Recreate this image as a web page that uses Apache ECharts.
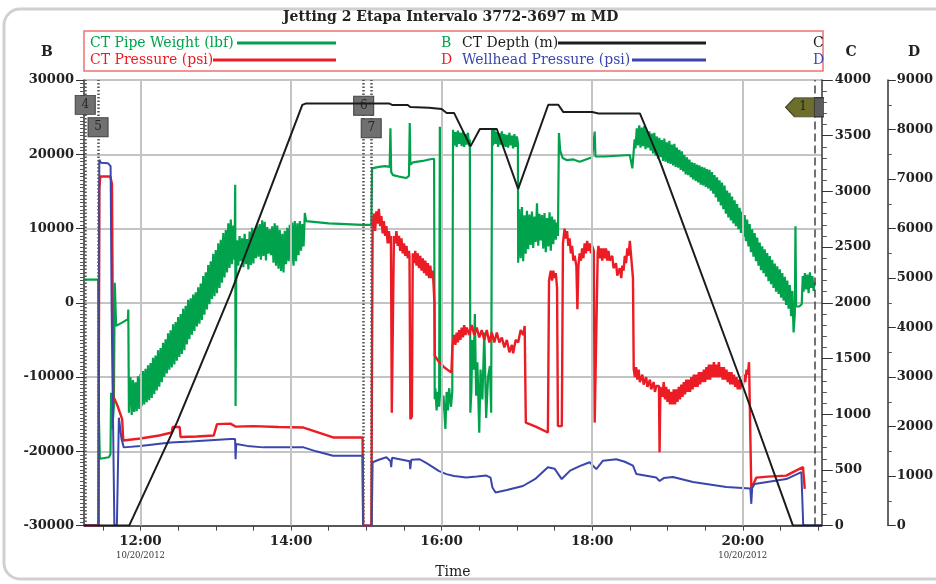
<!DOCTYPE html>
<html><head><meta charset="utf-8">
<script src="https://cdn.jsdelivr.net/npm/echarts@6/dist/echarts.min.js"></script>
<style>html,body{margin:0;padding:0;background:#fff}#c{width:936px;height:584px}</style>
</head><body><div id="c"></div>
<script>
// ---------------- DATA ----------------
const titleText = 'Jetting 2 Etapa Intervalo 3772-3697 m MD';
const seriesNames = ['CT Pipe Weight (lbf)', 'CT Pressure (psi)', 'CT Depth (m)', 'Wellhead Pressure (psi)'];
const seriesAxisLetters = ['B', 'D', 'C', 'D'];
const axisNames = ['B', 'C', 'D'];
const xAxisName = 'Time';
const dateText = '10/20/2012';
// time in minutes after midnight
const timeTicks = [690, 720, 750, 780, 810, 840, 870, 900, 930, 960, 990, 1020, 1050, 1080, 1110, 1140, 1170, 1200, 1230, 1260];
const timeLabels = [720, 840, 960, 1080, 1200];
const dateLabelTimes = [720, 1200];
const markerTimes = [676, 686.2, 897.9, 903.9];
const markerNames = ['4', '5', '6', '7'];
const markerLevels = [26650, 23630, 26520, 23490];
const flagTime = 1257.2;
const flagName = '1';
const flagLevel = 26320;

// CT Pipe Weight (lbf) - axis B
const pipeWeight = [
[675,3130],[686.3,3130],[686.9,-15700],[687.6,-21000],[694.8,-20800],[696.1,-20400],[696.6,-12100],[697.5,-17000],[698.8,-14000],[699.5,2700],[700,2700],[700.6,-3100],[705,-2700],[710,-2200],[710.3,-900],[710.8,-14800],[711.4,-10500],
[712,-10000],[713,-15100],[714,-10400],[715,-14700],[716,-10700],[717,-14600],[718,-9900],[719,-14300],[720,-9600],[721,-13900],[722,-9200],[723,-13700],[724,-8900],[725,-13400],[726,-8400],[727,-13100],[728,-8100],[729,-12800],[730,-7400],[731,-12300],[732,-7100],[733,-11800],[734,-6400],[735,-11300],[736,-6100],[737,-10700],[738,-5400],[739,-10000],[740,-4900],[741,-9500],[742,-4100],[743,-9000],[744,-3700],[745,-8700],[746,-2900],[747,-8300],[748,-2600],[749,-7800],[750,-1900],[751,-7300],[752,-1500],[753,-6900],[754,-800],[755,-6400],[756,-400],[757,-5600],[758,400],[759,-4900],[760,600],[761,-4300],[762,1100],[763,-3800],[764,1400],[765,-3200],[766,2100],[767,-2800],[768,2600],[769,-2300],[770,3600],[771,-1600],[772,4100],[773,-900],[774,5100],[775,-200],[776,5600],[777,500],[778,6600],[779,900],[780,7100],[781,1300],[782,8000],[783,2000],[784,8500],[785,2700],[786,9400],[787,3400],[788,9800],[789,4100],[790,10700],[791,4700],[792,11200],
[793,5200],[794,10400],[795,5800],[795.5,15900],[795.8,-13900],[796.4,6100],
[797,8400],[798,5000],[799,9000],[800,5600],[801,8700],[802,4800],[803,9300],[804,5200],[805,8600],[806,4500],[807,9600],[808,5100],[809,10100],[810,5300],[811,9800],[812,6000],[813,10400],[814,6200],[815,10600],[816,5800],[817,11100],[818,6300],[819,10900],[820,5700],[821,10200],[822,6600],[823,9900],[824,6400],[825,10300],[826,5400],[827,10700],[828,5000],[829,10400],[830,4600],[831,9800],[832,4300],[833,9300],[834,4100],[835,9700],[836,5200],[837,10100],[838,5600],[839,10500],[840,5300],[841,10800],[842,5000],[843,11000],[844,5600],[845,10700],[846,6400],[847,11000],[848,7000],[849,10600],[850,7600],
[851,12100],[852,11000],[870,10700],[897,10500],[904,10500],[904.6,18100],[910,18300],[915,18400],[918.6,18300],[919.2,23500],[919.8,17600],[921.3,17200],[926,17000],[931.9,16800],[934,17100],[934.6,24200],[935.1,18600],[937,18900],[945,19100],[950,19300],[954,19400],
[954.5,-13000],[955,-11500],[956,-14500],[957,-12000],[958,-14000],[958.6,23700],[959.3,-11200],[960.5,-14500],[961.5,-12500],[963,-17000],[964,-12000],[965,-14500],[966,-11500],[967.5,-14000],[968.5,-12000],
[969.1,23300],[970,21200],[971,23000],[972,21000],[973,23200],[974,21400],[975,22900],[976,21100],[977,23100],[978,21000],[979,22700],[980,21300],[981,22900],[982,21100],[982.5,22000],
[982.9,-14800],[983.7,-12000],[984.5,-5000],[985.5,-9000],[986.5,-1500],[987.5,-12500],[988.5,-8000],[990,-17500],[991,-9000],[992.5,-13000],[994,-4000],[995.5,-15500],[997,-10000],[998.5,-8500],[999.5,-14800],
[1000.2,23300],[1001,21200],[1002,23500],[1003,21400],[1004,23000],[1005,21000],[1006,22800],[1007,21300],[1008,23100],[1009,21100],[1010,22700],[1011,21000],[1012,22600],[1013,20900],[1014,22900],[1015,21200],[1016,22500],[1017,20800],[1018,22700],[1019,21000],[1020,22400],[1020.8,21500],
[1021,5400],[1022,12600],[1023,6000],[1024,12900],[1025,5600],[1026,11800],[1027,6600],[1028,12400],[1029,7200],[1030,11900],[1031,7800],[1032,12300],[1033,7400],[1034,11600],[1035,8200],[1036,13400],[1037,7700],[1038,12000],[1039,8400],[1040,11800],[1041,7300],[1042,12100],[1043,6800],[1044,11400],[1045,7600],[1046,12200],[1047,7000],[1048,11600],[1049,7900],[1050,11200],[1051,8500],[1052,10800],[1052.7,9000],
[1053.5,22850],[1054.5,20500],[1056.5,19500],[1060,19200],[1065,19300],[1070,19000],[1075,19300],[1080,19600],[1081.5,19500],[1082,23060],[1082.6,19700],[1090,19700],[1100,19800],[1110,19900],[1111.5,19700],[1112,18100],[1112.8,19800],
[1113.8,22000],[1114.5,20800],[1115.5,23500],[1116.5,21200],[1117.5,23900],[1118.5,20900],[1119.5,23600],[1120.5,21100],[1121.5,23800],[1122.5,20700],[1123.5,23300],[1124.5,20900],[1125.5,23100],[1126.5,20500],[1127.5,22800],[1128.5,20100],[1129.5,22900],[1130.5,19800],[1131.5,22400],[1132.5,19400],[1133.5,22200],[1134.5,19600],[1135.5,21900],[1136.5,19100],[1137.5,22100],[1138.5,19000],[1139.5,21600],[1140.5,18800],[1141.5,21800],[1142.5,18700],[1143.5,21300],[1144.5,18500],[1145.5,21400],[1146.5,18300],[1147.5,20900],[1148.5,18200],[1149.5,20600],[1150.5,17900],[1151.5,20400],[1152.5,17700],[1153.5,19900],[1154.5,17300],[1155.5,19600],[1156.5,17200],[1157.5,19300],[1158.5,16900],[1159.5,18900],[1160.5,16600],[1161.5,18800],[1162.5,16400],[1163.5,18600],[1164.5,16200],[1165.5,18500],[1166.5,15900],[1167.5,18300],[1168.5,15800],[1169.5,18200],[1170.5,15600],[1171.5,18000],[1172.5,15400],[1173.5,17900],[1174.5,15100],[1175.5,17600],[1176.5,14700],[1177.5,17200],[1178.5,14200],[1179.5,16900],[1180.5,13600],[1181.5,16500],[1182.5,13100],[1183.5,16200],[1184.5,12600],[1185.5,15800],[1186.5,12000],[1187.5,15100],[1188.5,11500],[1189.5,14800],[1190.5,11100],[1191.5,14300],[1192.5,10700],[1193.5,13800],[1194.5,10300],[1195.5,13300],[1196.5,9900],[1197.5,12800],[1198.5,9400],[1199.5,12300],[1200.5,8900],[1201.5,11800],[1202.5,8300],[1203.5,11200],[1204.5,7600],[1205.5,10600],[1206.5,6800],[1207.5,9900],[1208.5,6200],[1209.5,9400],[1210.5,5600],[1211.5,8800],[1212.5,5000],[1213.5,8100],[1214.5,4400],[1215.5,7600],[1216.5,4000],[1217.5,7200],[1218.5,3500],[1219.5,6700],[1220.5,2900],[1221.5,6300],[1222.5,2500],[1223.5,5800],[1224.5,2000],[1225.5,5300],[1226.5,1500],[1227.5,4900],[1228.5,1200],[1229.5,4500],[1230.5,700],[1231.5,4000],[1232.5,300],[1233.5,3500],[1234.5,-300],[1235.5,3000],[1236.5,-800],[1237.5,2400],[1238.5,-1800],[1239.5,1600],[1240.5,-4000],[1241.5,-1500],[1242,10300],[1242.5,-500],[1245,-500],[1247,-200],[1247.8,3600],[1248.5,1500],[1249.5,4000],[1250.5,1800],[1251.5,3800],[1252.5,1300],[1253.5,4100],[1254.5,2000],[1255.5,3600],[1256.5,1600],[1257.2,2800]
];

// CT Pressure (psi) - axis D
const ctPressure = [
[675,0],[686.5,0],[687.2,6800],[688,7050],[696,7050],[697.3,6900],[698.3,2600],[699.5,2550],[702,2400],[705.4,2150],[706.3,1720],[720,1760],[735,1820],[745,1880],[745.6,1990],[751.3,1990],[751.9,1790],[765,1800],[778.4,1820],[781,2050],[791.7,2060],[795.7,2000],[810,2010],[830,1990],[850,1980],[873.5,1780],[897,1780],[897.5,0],[904,0],
[905,6050],[906,6300],[907,5950],[908,6350],[909,6100],[910,6400],[911,6050],[912,6250],[913,5900],[914,6150],[915,5850],[916,6050],[917,5700],[918,5950],[919,5700],[919.6,5850],[920.3,2280],[921.3,2300],
[922,5850],[923,5700],[924,5950],[925,5650],[926,5850],[927,5550],[928,5800],[929,5500],[930,5700],[931,5450],[932,5650],[933,5400],[934,5550],[934.4,5440],[935.1,2150],[936.3,2200],
[937,5500],[938,5300],[939,5550],[940,5250],[941,5500],[942,5200],[943,5450],[944,5150],[945,5400],[946,5100],[947,5350],[948,5050],[949,5300],[950,5000],[951,5250],[952,5000],[953,5150],[954.3,4500],[954.6,3430],
[958,3300],[962,3200],[967.8,3090],[968.6,3620],[970,3850],[971,3650],[972,3900],[973,3700],[974,3950],[975,3750],[976,4000],[977,3800],[978,4050],[979,3850],[980,4000],[982,3850],[984,4050],[986,3850],[988,4000],[990,3800],[992,3950],[994,3750],[996,3950],[998,3700],[1000,3900],[1002,3700],[1004,3900],[1006,3700],[1008,3800],[1010,3600],[1012,3750],[1014,3500],[1016,3650],[1017,3480],[1019,3750],[1021,3700],[1023,3950],[1025,3850],[1026.2,4030],
[1027.1,2080],[1035,2000],[1044.7,1880],[1045.6,4950],[1047,5150],[1048,4950],[1049,5150],[1050,5000],[1051,5100],[1052,4800],[1052.7,2010],[1055.8,2010],
[1056.7,5700],[1058,6000],[1059,5800],[1060,5950],[1061,5650],[1062,5800],[1063,5500],[1064,5650],[1065,5350],[1066,5450],[1067.4,5240],[1068.2,4370],[1069,5240],[1070,5500],[1071,5350],[1072,5600],[1073,5400],[1074,5700],[1075,5500],[1076,5750],[1077,5550],[1078,5700],[1079,5500],[1080,5650],[1081.3,5550],[1082,2080],[1083.5,2080],
[1084.4,5510],[1085,5650],[1086,5400],[1087,5600],[1088,5350],[1089,5600],[1090,5400],[1091,5600],[1092,5350],[1093,5550],[1094,5350],[1096,5450],[1097,5200],[1099,5300],[1100,5050],[1102,5200],[1103.2,5000],[1104,5250],[1105,5150],[1106,5450],[1107,5300],[1108,5600],[1109,5450],[1110,5750],[1111.2,5780],[1112.5,5000],
[1113.1,3160],[1114,3000],[1115,3200],[1116,2950],[1117,3150],[1118,2900],[1120,3050],[1121,2850],[1123,3000],[1124,2800],[1126,2950],[1127,2750],[1129,2900],[1130,2700],[1131.1,2820],[1133.2,2820],[1133.7,1480],[1134.4,2800],
[1136,2600],[1137,2900],[1138,2550],[1139,2800],[1140,2500],[1141,2750],[1142,2450],[1143,2700],[1144,2450],[1145,2750],[1146,2450],[1147,2750],[1148,2500],[1149,2800],[1150,2550],[1151,2850],[1152,2600],[1153,2900],[1154,2650],[1155,2950],[1156,2700],[1157,2950],[1158,2700],[1159,3000],[1160,2750],[1161,3050],[1162,2800],[1163,3050],[1164,2800],[1165,3100],[1166,2850],[1167,3100],[1168,2900],[1169,3150],[1170,2900],[1171,3200],[1172,2950],[1173,3250],[1174,2950],[1175,3250],[1176,3000],[1177,3300],[1178,3000],[1179,3250],[1180,3000],[1181,3300],[1182,3000],[1183,3200],[1184,2950],[1185,3200],[1186,2950],[1187,3150],[1188,2900],[1189,3100],[1190,2850],[1191,3100],[1192,2850],[1193,3050],[1194,2800],[1195,3000],[1196,2750],[1197,2950],[1198,2750],[1199,2950],[1200,2800],[1201,3050],[1202,2900],[1203,3150],[1204,3050],[1205,3300],[1206,3330],
[1206.8,740],[1210.8,970],[1220,990],[1234.7,1010],[1240,1080],[1248,1180],[1249.4,740]
];

// CT Depth (m) - axis C
const ctDepth = [
[675,0],[711,0],[749,925],[792,2090],[849,3777],[852,3790],[918,3790],[921,3775],[933,3775],[935,3757],[950,3750],[951,3739],[960,3739],[964,3703],[970,3703],[983,3404],[990.5,3560],[1004,3560],[1021,3022],[1045,3778],[1053,3778],[1057,3712],[1080,3712],[1085,3700],[1118,3700],[1134,3270],[1200,1253],[1240,0],[1263,0]
];

// Wellhead Pressure (psi) - axis D
const wellheadPressure = [
[675,0],[686.6,0],[687.2,7390],[688.5,7330],[694,7320],[696.2,7260],[697,4430],[699.2,0],[701.2,0],[702.8,2180],[704.9,1750],[706.7,1580],[720,1610],[743.9,1680],[760,1700],[791.7,1750],[795.4,1750],[795.8,1340],[796.3,1650],[805,1610],[818,1580],[850,1580],[860,1500],[873.5,1410],[897,1410],[897.4,0],[904.3,0],[905,1280],[910,1330],[916,1380],[919.3,1300],[919.8,1180],[920.5,1370],[926.6,1340],[934.5,1300],[935,1140],[935.8,1330],[942.5,1340],[948,1260],[953,1180],[958,1100],[963.8,1040],[970,1000],[979.7,970],[988,990],[995.7,1010],[999,970],[1000.5,770],[1003,670],[1012,720],[1024.8,800],[1035,950],[1044.7,1180],[1050,1150],[1055.7,940],[1062.4,1110],[1070,1200],[1078,1280],[1083.3,1140],[1088.6,1310],[1099.2,1340],[1106,1290],[1112.5,1210],[1115.2,1040],[1131.1,970],[1133.7,900],[1137,960],[1144.3,980],[1160.3,880],[1186.9,780],[1206,750],[1206.8,440],[1207.5,760],[1209.4,840],[1234.7,940],[1246.7,1080],[1247.5,1080],[1248.2,0],[1263,0]
];

// ---------------- STYLE ----------------
const FONT = "'DejaVu Serif', serif";
const C_GREEN = '#00a24c', C_RED = '#ec1c24', C_BLACK = '#1c1c1c', C_BLUE = '#3a46ac';
const seriesColors = [C_GREEN, C_RED, C_BLACK, C_BLUE];
const TXT = '#222';

function fmtTime(v) {
  const h = Math.floor(v / 60), m = Math.round(v - h * 60);
  return h + ':' + String(m).padStart(2, '0');
}

const chart = echarts.init(document.getElementById('c'), null, {renderer: 'canvas'});

const legendRows = [[0, 2], [1, 3]];
const legendGraphics = [];
legendGraphics.push({type: 'rect', shape: {x: 84, y: 31, width: 739, height: 40}, style: {fill: 'none', stroke: '#f07272', lineWidth: 1.5}, z: 10});
const legendCols = [{tx: 90, l1: 336, lx: 441}, {tx: 462, l1: 706, lx: 813}];
const legendLineStarts = [[237, 558], [213, 632]];
legendRows.forEach((row, ri) => {
  const y = 43 + ri * 17;
  row.forEach((si, ci) => {
    const col = legendCols[ci];
    legendGraphics.push({type: 'text', x: col.tx, y: y, z: 10, style: {text: seriesNames[si], fill: seriesColors[si], font: '14px ' + FONT, textVerticalAlign: 'middle', verticalAlign: 'middle'}});
    legendGraphics.push({type: 'text', x: col.lx, y: y, z: 10, style: {text: seriesAxisLetters[si], fill: seriesColors[si], font: '14px ' + FONT, textVerticalAlign: 'middle', verticalAlign: 'middle'}});
    legendGraphics.push({type: 'line', z: 10, shape: {x1: legendLineStarts[ri][ci], y1: y, x2: col.l1, y2: y}, style: {stroke: seriesColors[si], lineWidth: 3}});
  });
});

const axisNameGraphics = [[47, axisNames[0]], [851, axisNames[1]], [914, axisNames[2]]].map(([x, t]) => ({
  type: 'text', x: x, y: 52, z: 10,
  style: {text: t, fill: TXT, font: 'bold 14px ' + FONT, textAlign: 'center', align: 'center', textVerticalAlign: 'middle', verticalAlign: 'middle'}
}));

const frame = {type: 'rect', shape: {x: 4, y: 9, width: 990, height: 570, r: 16}, style: {fill: 'none', stroke: '#d0d0d0', lineWidth: 3}, z: -1};

const option = {
  animation: false,
  backgroundColor: '#ffffff',
  title: {text: titleText, left: 283, top: 10, padding: 0, textStyle: {fontFamily: FONT, fontWeight: 'bold', fontSize: 14, color: TXT}},
  graphic: [frame].concat(legendGraphics, axisNameGraphics),
  grid: {left: 84, right: 114, top: 80, bottom: 57, containLabel: false},
  xAxis: [{
    type: 'value', min: 675, max: 1263,
    name: xAxisName, nameLocation: 'middle', nameGap: 37,
    nameTextStyle: {fontFamily: FONT, fontSize: 14, color: TXT},
    axisLine: {show: true, onZero: false, lineStyle: {color: '#333', width: 1.5}},
    axisTick: {show: true, customValues: timeTicks, length: 5, lineStyle: {color: '#444', width: 1}},
    splitLine: {show: false},
    axisLabel: {
      customValues: timeLabels, margin: 8, color: TXT,
      formatter: function (v) {
        const s = '{t|' + fmtTime(v) + '}';
        return dateLabelTimes.indexOf(v) >= 0 ? s + '\n{d|' + dateText + '}' : s;
      },
      rich: {
        t: {fontFamily: FONT, fontWeight: 'bold', fontSize: 13.5, color: TXT, lineHeight: 16},
        d: {fontFamily: FONT, fontSize: 8.5, color: '#333', lineHeight: 12}
      }
    }
  }],
  yAxis: [{
    type: 'value', position: 'left', min: -30000, max: 30000, interval: 10000,
    axisLine: {show: true, lineStyle: {color: '#333', width: 1.5}},
    axisTick: {show: true, length: 8, lineStyle: {color: '#333'}},
    minorTick: {show: true, splitNumber: 20, length: 4, lineStyle: {color: '#555'}},
    splitLine: {show: true, lineStyle: {color: '#c4c4c4', width: 2}},
    axisLabel: {margin: 10, color: TXT, fontFamily: FONT, fontWeight: 'bold', fontSize: 13, formatter: v => String(v)}
  }, {
    type: 'value', position: 'right', min: 0, max: 4000, interval: 500,
    axisLine: {show: true, lineStyle: {color: '#333', width: 1.5}},
    axisTick: {show: true, length: 11, lineStyle: {color: '#333'}},
    minorTick: {show: true, splitNumber: 5, length: 5, lineStyle: {color: '#555'}},
    splitLine: {show: false},
    axisLabel: {margin: 13, color: TXT, fontFamily: FONT, fontWeight: 'bold', fontSize: 13, formatter: v => String(v)}
  }, {
    type: 'value', position: 'right', offset: 66, min: 0, max: 9000, interval: 1000,
    axisLine: {show: true, lineStyle: {color: '#333', width: 1.5}},
    axisTick: {show: true, length: 8, lineStyle: {color: '#333'}},
    minorTick: {show: true, splitNumber: 2, length: 4, lineStyle: {color: '#555'}},
    splitLine: {show: false},
    axisLabel: {margin: 9, color: TXT, fontFamily: FONT, fontWeight: 'bold', fontSize: 13, formatter: v => String(v)}
  }],
  series: [
    {
      name: 'grid', type: 'line', data: [], z: 1, silent: true,
      markLine: {silent: true, symbol: 'none', animation: false, label: {show: false},
        lineStyle: {color: '#c4c4c4', width: 2, type: 'solid'},
        data: timeLabels.map(t => ({xAxis: t}))}
    },
    {name: seriesNames[0], type: 'line', yAxisIndex: 0, data: pipeWeight, showSymbol: false, symbol: 'none', z: 2,
      lineStyle: {color: C_GREEN, width: 2.2, join: 'bevel'}, itemStyle: {color: C_GREEN}},
    {name: seriesNames[1], type: 'line', yAxisIndex: 2, data: ctPressure, showSymbol: false, symbol: 'none', z: 3,
      lineStyle: {color: C_RED, width: 2.4, join: 'bevel'}, itemStyle: {color: C_RED}},
    {name: seriesNames[3], type: 'line', yAxisIndex: 2, data: wellheadPressure, showSymbol: false, symbol: 'none', z: 4,
      lineStyle: {color: C_BLUE, width: 2}, itemStyle: {color: C_BLUE}},
    {name: seriesNames[2], type: 'line', yAxisIndex: 1, data: ctDepth, showSymbol: false, symbol: 'none', z: 5,
      lineStyle: {color: C_BLACK, width: 2}, itemStyle: {color: C_BLACK}},
    {
      name: 'markers', type: 'line', data: [], z: 6, silent: true,
      markLine: {silent: true, symbol: 'none', animation: false, label: {show: false},
        data: markerTimes.map(t => ({xAxis: t, lineStyle: {color: '#555', width: 2.5, type: [1.5, 2]}}))
          .concat([{xAxis: flagTime, lineStyle: {color: '#444', width: 1.5, type: [8, 4]}}])},
      markPoint: {silent: true, animation: false,
        data: markerTimes.map((t, i) => ({
          coord: [t, markerLevels[i]], value: markerNames[i], symbol: 'rect', symbolSize: [20, 19],
          itemStyle: {color: '#707070', borderColor: '#404040', borderWidth: 1},
          label: {show: true, formatter: markerNames[i], color: '#262626', fontFamily: FONT, fontSize: 12}
        })).concat([{
          coord: [flagTime, flagLevel], value: flagName,
          symbol: 'path://M0,9.5 L9,0 L29,0 L29,19 L9,19 Z', symbolSize: [29, 19], symbolOffset: [-14.5, 0],
          itemStyle: {color: '#6e6e2c', borderColor: '#3c3c18', borderWidth: 1},
          label: {show: true, formatter: flagName, color: '#1e1e1e', fontFamily: FONT, fontSize: 12, offset: [3, 0]}
        }, {
          coord: [flagTime, flagLevel], value: '', symbol: 'rect', symbolSize: [9, 19], symbolOffset: [4.5, 0],
          itemStyle: {color: '#5c5c5c', borderColor: '#3a3a3a', borderWidth: 1},
          label: {show: false}
        }])}
    }
  ]
};
chart.setOption(option);
</script>
</body></html>
